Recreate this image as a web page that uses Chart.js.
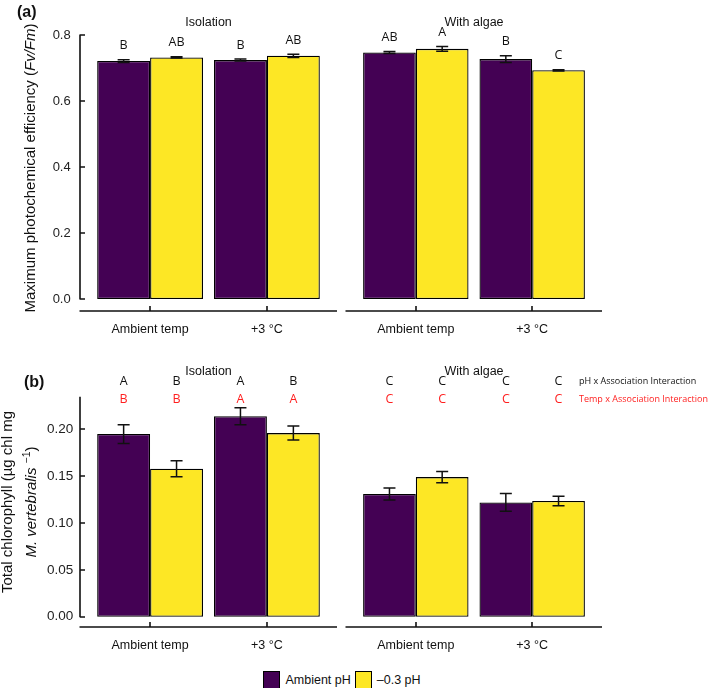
<!DOCTYPE html>
<html>
<head>
<meta charset="utf-8">
<script src="https://cdn.jsdelivr.net/npm/chart.js@4.4.1/dist/chart.umd.min.js"></script>
<style>
  html, body { margin: 0; padding: 0; background: #fff; }
  #fig { position: relative; width: 709px; height: 688px; overflow: hidden; font-family: 'Liberation Sans', Arial, sans-serif; }
  .panel { position: absolute; }
  #legend { position: absolute; top: 671px; left: 0; width: 688px; display: flex; justify-content: center; align-items: center; font-size: 12.5px; color: #111; }
  #legend .key { display: inline-block; width: 15px; height: 16px; border: 1px solid #000; margin-right: 5px; }
  #legend .lab { margin-right: 4px; }
</style>
</head>
<body>
<div id="fig">
  <div class="panel" style="left:0;top:0;width:340px;height:340px"><canvas id="aL"></canvas></div>
  <div class="panel" style="left:340px;top:0;width:369px;height:340px"><canvas id="aR"></canvas></div>
  <div class="panel" style="left:0;top:340px;width:340px;height:320px"><canvas id="bL"></canvas></div>
  <div class="panel" style="left:340px;top:340px;width:369px;height:320px"><canvas id="bR"></canvas></div>
  <div id="legend"></div>
</div>
<script>
const tempLabels = ['Ambient temp', '+3 \u00B0C'];
const seriesNames = ['Ambient pH', '\u20130.3 pH'];
const seriesColors = ['#440154', '#FDE725'];

// (a) maximum photochemical efficiency (Fv/Fm), values at [ambient temp, +3 C]
const fvTicks = [0, 0.2, 0.4, 0.6, 0.8];
const fvIsoAmbient = [0.721, 0.724];
const fvIsoAmbientErr = [0.004, 0.003];
const fvIsoLow = [0.732, 0.737];
const fvIsoLowErr = [0.002, 0.005];
const fvAlgAmbient = [0.747, 0.727];
const fvAlgAmbientErr = [0.003, 0.010];
const fvAlgLow = [0.758, 0.693];
const fvAlgLowErr = [0.007, 0.002];
const fvIsoAmbientLetters = ['B', 'B'];
const fvIsoLowLetters = ['AB', 'AB'];
const fvAlgAmbientLetters = ['AB', 'B'];
const fvAlgLowLetters = ['A', 'C'];

// (b) total chlorophyll
const chlTicks = [0, 0.05, 0.10, 0.15, 0.20];
const chlIsoAmbient = [0.195, 0.214];
const chlIsoAmbientErr = [0.010, 0.009];
const chlIsoLow = [0.158, 0.196];
const chlIsoLowErr = [0.0085, 0.0075];
const chlAlgAmbient = [0.131, 0.122];
const chlAlgAmbientErr = [0.0065, 0.0095];
const chlAlgLow = [0.149, 0.1235];
const chlAlgLowErr = [0.006, 0.005];
// pH x association (black) and temp x association (red)
const chlIsoAmbientPh = ['A', 'A'];
const chlIsoLowPh = ['B', 'B'];
const chlIsoAmbientTemp = ['B', 'A'];
const chlIsoLowTemp = ['B', 'A'];
const chlAlgPh = ['C', 'C'];
const chlAlgTemp = ['C', 'C'];

const axisColor = '#111';
const red = '#ff1f1f';
const baseFont = "'Liberation Sans', Arial, sans-serif";
const letterFont = "12.5px 'Open Sans', sans-serif";

Chart.defaults.font.family = baseFont;

function drawParts(ctx, parts, cx, cy) {
	ctx.save();
	ctx.translate(cx, cy);
	ctx.rotate(-Math.PI / 2);
	ctx.textAlign = 'left';
	ctx.textBaseline = 'middle';
	ctx.fillStyle = '#111';
	let total = 0;
	parts.forEach(p => { ctx.font = p.f; total += ctx.measureText(p.t).width; });
	let x = -total / 2;
	parts.forEach(p => {
		ctx.font = p.f;
		ctx.fillText(p.t, x, p.dy || 0);
		x += ctx.measureText(p.t).width;
	});
	ctx.restore();
}

function drawDecor(chart, cfg) {
	const ctx = chart.ctx, area = chart.chartArea, ys = chart.scales.y, xs = chart.scales.x;
	ctx.save();

	// x axis line with inward ticks
	ctx.strokeStyle = axisColor;
	ctx.lineWidth = 1.6;
	ctx.lineCap = 'butt';
	const xLine = Math.round(area.bottom);
	ctx.beginPath();
	ctx.moveTo(area.left - 0.5, xLine);
	ctx.lineTo(area.right, xLine);
	xs.ticks.forEach(t => {
		const px = Math.round(xs.getPixelForValue(t.value));
		ctx.moveTo(px, xLine);
		ctx.lineTo(px, xLine - 5);
	});
	ctx.stroke();

	// y axis line from 0 up, with inward ticks
	if (cfg.showY) {
		const yLine = Math.round(ys.right);
		ctx.beginPath();
		ctx.moveTo(yLine, area.top - 0.5);
		ctx.lineTo(yLine, ys.getPixelForValue(0) + 0.5);
		cfg.yTicks.forEach(v => {
			const py = Math.round(ys.getPixelForValue(v));
			ctx.moveTo(yLine, py);
			ctx.lineTo(yLine + 5, py);
		});
		ctx.stroke();
	}

	// error bars
	ctx.strokeStyle = '#111';
	ctx.lineWidth = 1.5;
	cfg.series.forEach((s, d) => {
		chart.getDatasetMeta(d).data.forEach((bar, i) => {
			const hi = ys.getPixelForValue(s.values[i] + s.err[i]);
			const lo = ys.getPixelForValue(s.values[i] - s.err[i]);
			ctx.beginPath();
			ctx.moveTo(bar.x, hi); ctx.lineTo(bar.x, lo);
			ctx.moveTo(bar.x - 6, hi); ctx.lineTo(bar.x + 6, hi);
			ctx.moveTo(bar.x - 6, lo); ctx.lineTo(bar.x + 6, lo);
			ctx.stroke();
		});
	});

	// letters
	ctx.font = letterFont;
	ctx.textAlign = 'center';
	ctx.textBaseline = 'middle';
	cfg.series.forEach((s, d) => {
		chart.getDatasetMeta(d).data.forEach((bar, i) => {
			s.letters.forEach(row => {
				ctx.fillStyle = row.color;
				const y = row.dy === undefined
					? ys.getPixelForValue(s.values[i] + s.err[i]) - 14
					: area.top + row.dy;
				ctx.fillText(row.text[i], bar.x, y);
			});
		});
	});

	// sub-panel title
	ctx.font = '12.5px ' + baseFont;
	ctx.fillStyle = '#111';
	ctx.fillText(cfg.title, (area.left + area.right) / 2, area.top + cfg.titleDy);

	// interaction notes
	if (cfg.notes) {
		ctx.font = "9px 'Open Sans', sans-serif";
		ctx.textAlign = 'left';
		cfg.notes.forEach(n => {
			ctx.fillStyle = n.color;
			ctx.fillText(n.text, area.right - 23, area.top + n.dy);
		});
	}

	if (cfg.showY) {
		cfg.yTitle.forEach(line => drawParts(ctx, line.parts, line.cx, line.cy));
		ctx.font = 'bold 16px ' + baseFont;
		ctx.fillStyle = '#111';
		ctx.textAlign = 'left';
		ctx.fillText(cfg.tag, cfg.tagX, cfg.tagY);
	}
	ctx.restore();
}

function buildPanel(canvasId, cfg) {
	const datasets = cfg.series.map((s, d) => ({
		label: seriesNames[d],
		data: s.values.map((v, i) => ({ x: i + 1, y: v })),
		backgroundColor: seriesColors[d],
		borderColor: '#000',
		borderWidth: 1.3,
		borderSkipped: false,
		categoryPercentage: 0.906,
		barPercentage: 1
	}));
	return new Chart(document.getElementById(canvasId), {
		type: 'bar',
		data: { datasets: datasets },
		options: {
			responsive: true,
			maintainAspectRatio: false,
			animation: false,
			layout: { padding: cfg.padding },
			scales: {
				x: {
					type: 'linear', min: 0.4, max: 2.6, offset: false,
					afterBuildTicks: s => { s.ticks = tempLabels.map((t, i) => ({ value: i + 1 })); },
					afterFit: s => { s.height = cfg.xHeight; },
					ticks: {
						callback: v => tempLabels[v - 1],
						font: { size: 12.5 }, color: '#111',
						padding: 11.5, maxRotation: 0, autoSkip: false
					},
					grid: { display: false, drawTicks: false, offset: false },
					border: { display: false }
				},
				y: {
					display: cfg.showY,
					min: cfg.yMin, max: cfg.yMax,
					afterBuildTicks: s => { s.ticks = cfg.yTicks.map(v => ({ value: v })); },
					afterFit: s => { if (cfg.showY) s.width = 80; },
					ticks: {
						callback: v => v.toFixed(cfg.decimals),
						font: { size: cfg.yFont }, color: '#222', padding: cfg.yPad
					},
					grid: { display: false, drawTicks: false },
					border: { display: false }
				}
			},
			plugins: { legend: { display: false }, tooltip: { enabled: false } }
		},
		plugins: [{ id: 'decor', afterDraw: chart => drawDecor(chart, cfg) }]
	});
}

const padLeft = { left: 0, right: 3, bottom: 0 };
const padRight = { left: 6, right: 107, bottom: 0 };

const panelA = { yMin: -0.0364, yMax: 0.8, yTicks: fvTicks, decimals: 1, yFont: 13, yPad: 9.3, xHeight: 29, titleDy: -12 };
const panelB = { yMin: -0.0107, yMax: 0.2342, yTicks: chlTicks, decimals: 2, yFont: 13.5, yPad: 6.7, xHeight: 33.3, titleDy: -25.3 };

buildPanel('aL', Object.assign({}, panelA, {
	padding: Object.assign({ top: 35 }, padLeft), showY: true, title: 'Isolation',
	series: [
		{ values: fvIsoAmbient, err: fvIsoAmbientErr, letters: [{ text: fvIsoAmbientLetters, color: '#111' }] },
		{ values: fvIsoLow, err: fvIsoLowErr, letters: [{ text: fvIsoLowLetters, color: '#111' }] }
	],
	yTitle: [{ cx: 31, cy: 168, parts: [
		{ t: 'Maximum photochemical efficiency (', f: '15px ' + baseFont },
		{ t: 'Fv/Fm', f: 'italic 15px ' + baseFont },
		{ t: ')', f: '15px ' + baseFont }
	] }],
	tag: '(a)', tagX: 17, tagY: 13
}));

buildPanel('aR', Object.assign({}, panelA, {
	padding: Object.assign({ top: 35 }, padRight), showY: false, title: 'With algae',
	series: [
		{ values: fvAlgAmbient, err: fvAlgAmbientErr, letters: [{ text: fvAlgAmbientLetters, color: '#111' }] },
		{ values: fvAlgLow, err: fvAlgLowErr, letters: [{ text: fvAlgLowLetters, color: '#111' }] }
	]
}));

buildPanel('bL', Object.assign({}, panelB, {
	padding: Object.assign({ top: 57.3 }, padLeft), showY: true, title: 'Isolation',
	series: [
		{ values: chlIsoAmbient, err: chlIsoAmbientErr, letters: [
			{ text: chlIsoAmbientPh, color: '#111', dy: -15.6 },
			{ text: chlIsoAmbientTemp, color: red, dy: 1.7 }] },
		{ values: chlIsoLow, err: chlIsoLowErr, letters: [
			{ text: chlIsoLowPh, color: '#111', dy: -15.6 },
			{ text: chlIsoLowTemp, color: red, dy: 1.7 }] }
	],
	yTitle: [
		{ cx: 8, cy: 162, parts: [{ t: 'Total chlorophyll (\u00B5g chl mg', f: '15px ' + baseFont }] },
		{ cx: 32, cy: 162, parts: [
			{ t: 'M. vertebralis', f: 'italic 15px ' + baseFont },
			{ t: ' ', f: '15px ' + baseFont },
			{ t: '\u22121', f: '10.5px ' + baseFont, dy: -5 },
			{ t: ')', f: '15px ' + baseFont }
		] }
	],
	tag: '(b)', tagX: 24, tagY: 43
}));

buildPanel('bR', Object.assign({}, panelB, {
	padding: Object.assign({ top: 57.3 }, padRight), showY: false, title: 'With algae',
	series: [
		{ values: chlAlgAmbient, err: chlAlgAmbientErr, letters: [
			{ text: chlAlgPh, color: '#111', dy: -15.6 },
			{ text: chlAlgTemp, color: red, dy: 1.7 }] },
		{ values: chlAlgLow, err: chlAlgLowErr, letters: [
			{ text: chlAlgPh, color: '#111', dy: -15.6 },
			{ text: chlAlgTemp, color: red, dy: 1.7 }] }
	],
	notes: [
		{ text: 'pH x Association Interaction', color: '#111', dy: -15.6 },
		{ text: 'Temp x Association Interaction', color: red, dy: 1.7 }
	]
}));

// shared legend
const $legend = document.getElementById('legend');
seriesNames.forEach((name, i) => {
	const key = document.createElement('span');
	key.className = 'key';
	key.style.background = seriesColors[i];
	const lab = document.createElement('span');
	lab.className = 'lab';
	lab.textContent = name;
	$legend.appendChild(key);
	$legend.appendChild(lab);
});
</script>
</body>
</html>
